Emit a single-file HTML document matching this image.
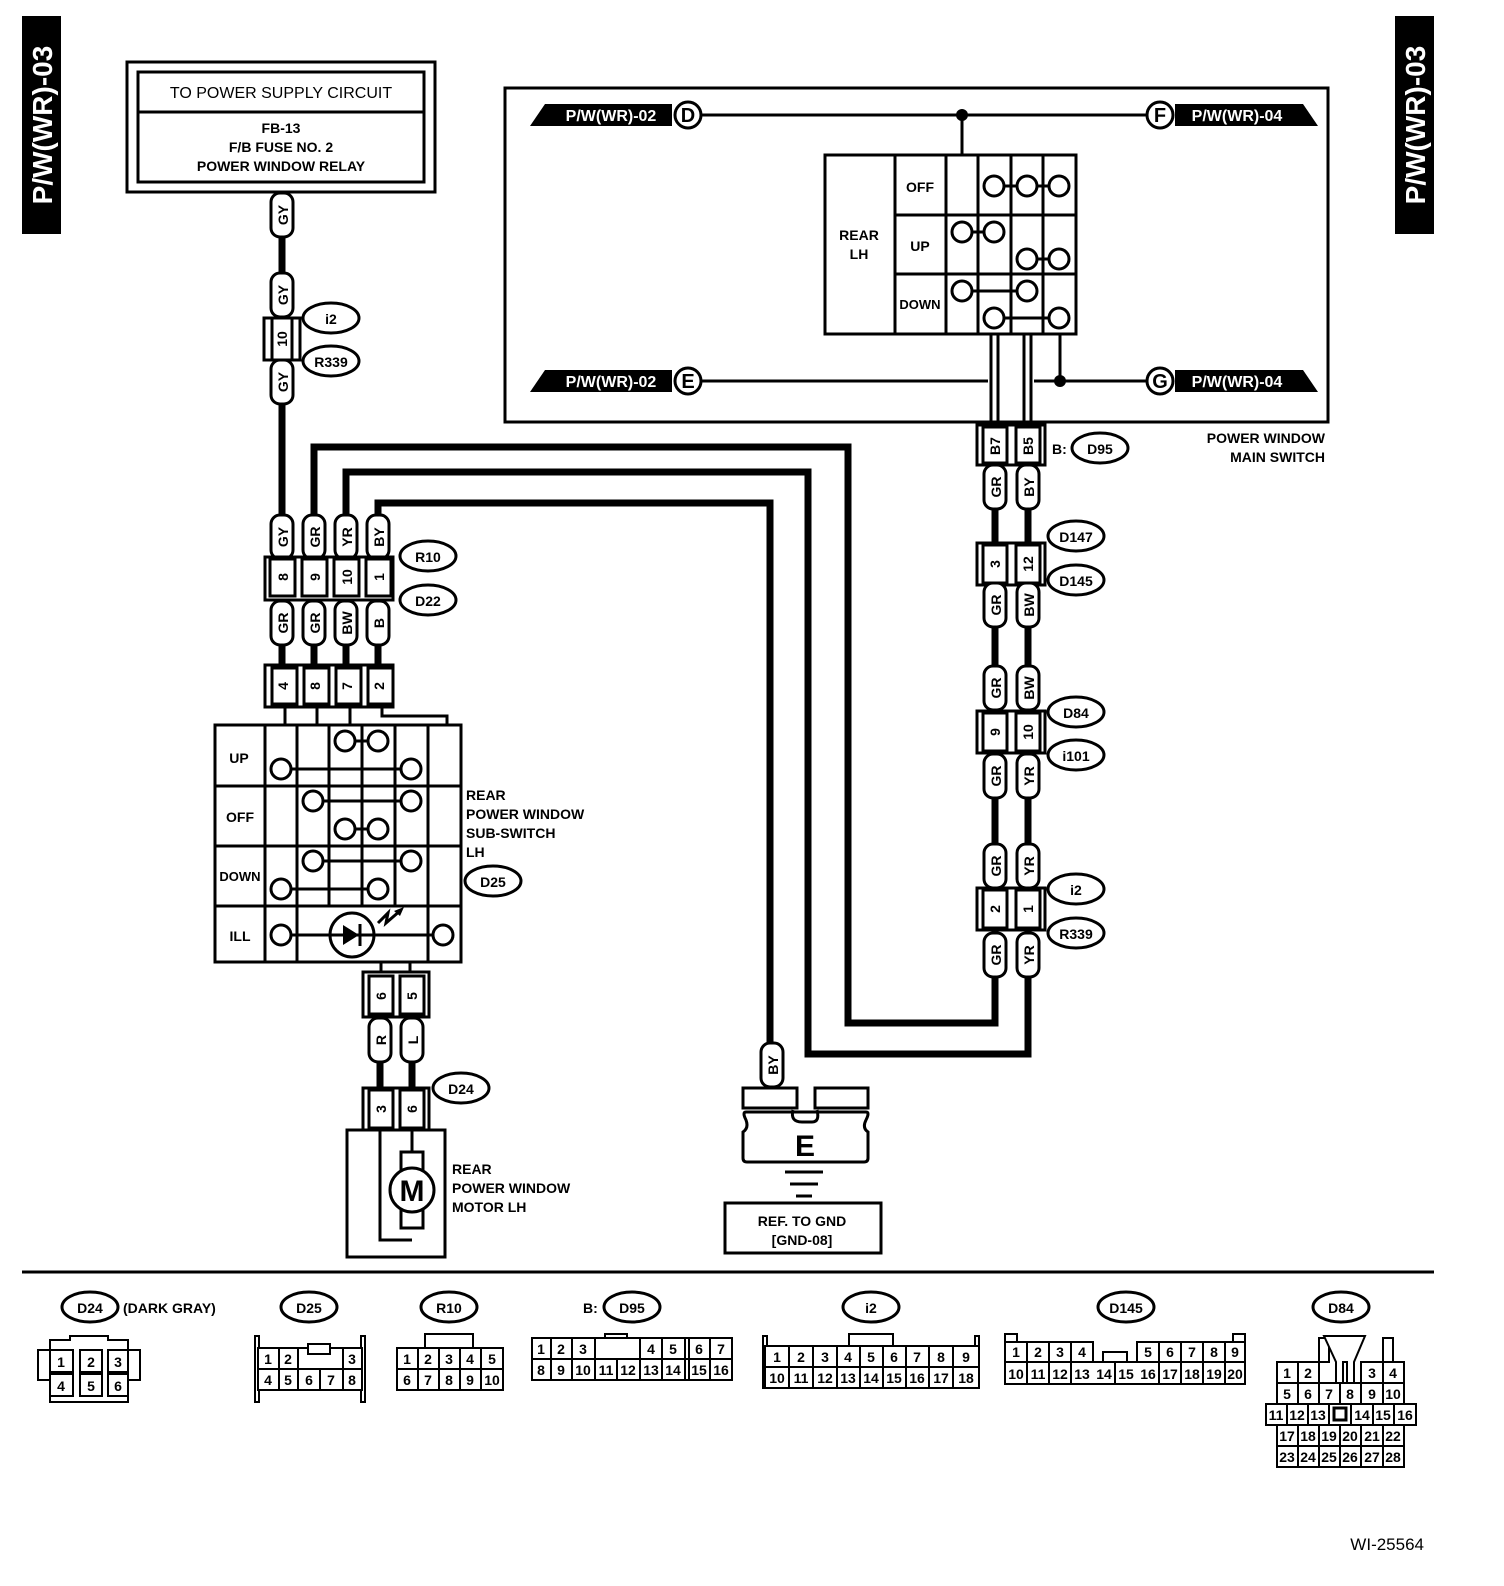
<!DOCTYPE html>
<html><head><meta charset="utf-8"><style>
html,body{margin:0;padding:0;background:#fff;width:1504px;height:1586px;overflow:hidden}
svg{display:block}
text{font-family:"Liberation Sans",Arial,sans-serif;font-weight:bold;fill:#000}
.t{font-size:16px}
.s{font-size:14px}
.c{font-size:13px;font-weight:normal}
</style></head><body>
<svg width="1504" height="1586" viewBox="0 0 1504 1586" xmlns="http://www.w3.org/2000/svg">
<defs>
<g id="pill"><rect x="-11" y="-22" width="22" height="44" rx="9" fill="#fff" stroke="#000" stroke-width="3"/></g>
</defs>
<!-- side tabs -->
<rect x="22" y="16" width="39" height="218" fill="#000"/>
<text transform="translate(52,125) rotate(-90)" text-anchor="middle" style="font-size:28px;fill:#fff">P/W(WR)-03</text>
<rect x="1395" y="16" width="39" height="218" fill="#000"/>
<text transform="translate(1425,125) rotate(-90)" text-anchor="middle" style="font-size:28px;fill:#fff">P/W(WR)-03</text>

<!-- power supply box -->
<rect x="127" y="62" width="308" height="130" fill="none" stroke="#000" stroke-width="3"/>
<rect x="138" y="72" width="286" height="110" fill="none" stroke="#000" stroke-width="3"/>
<line x1="138" y1="112" x2="424" y2="112" stroke="#000" stroke-width="3"/>
<text x="281" y="98" text-anchor="middle" class="t" style="font-weight:normal">TO POWER SUPPLY CIRCUIT</text>
<text x="281" y="133" text-anchor="middle" class="s">FB-13</text>
<text x="281" y="152" text-anchor="middle" class="s">F/B FUSE NO. 2</text>
<text x="281" y="171" text-anchor="middle" class="s">POWER WINDOW RELAY</text>

<!-- thick wires -->
<g fill="none" stroke="#000" stroke-width="7">
<line x1="282" y1="192" x2="282" y2="560"/>
<polyline points="314,560 314,447 848,447 848,1023 995,1023 995,960"/>
<polyline points="346,560 346,472 808,472 808,1054 1028,1054 1028,960"/>
<polyline points="378,560 378,503 770,503 770,1090"/>
<line x1="282" y1="600" x2="282" y2="668"/>
<line x1="314" y1="600" x2="314" y2="668"/>
<line x1="346" y1="600" x2="346" y2="668"/>
<line x1="378" y1="600" x2="378" y2="668"/>
<line x1="995" y1="460" x2="995" y2="960"/>
<line x1="1028" y1="460" x2="1028" y2="960"/>
<line x1="380" y1="1015" x2="380" y2="1090"/>
<line x1="412" y1="1015" x2="412" y2="1090"/>
</g>

<!-- i2/R339 connector left -->
<rect x="264" y="318" width="36" height="42" fill="#fff" stroke="#000" stroke-width="3"/>
<rect x="272" y="318" width="20" height="42" fill="#fff" stroke="#000" stroke-width="3"/>
<text transform="translate(287,339) rotate(-90)" text-anchor="middle" class="s">10</text>
<ellipse cx="331" cy="318" rx="28" ry="15" fill="#fff" stroke="#000" stroke-width="3"/><text x="331" y="324" text-anchor="middle" class="s">i2</text>
<ellipse cx="331" cy="361" rx="28" ry="15" fill="#fff" stroke="#000" stroke-width="3"/><text x="331" y="367" text-anchor="middle" class="s">R339</text>

<!-- pills left column -->
<g>
<use href="#pill" x="282" y="215"/><text transform="translate(288,215) rotate(-90)" text-anchor="middle" class="s">GY</text>
<use href="#pill" x="282" y="295"/><text transform="translate(288,295) rotate(-90)" text-anchor="middle" class="s">GY</text>
<use href="#pill" x="282" y="382"/><text transform="translate(288,382) rotate(-90)" text-anchor="middle" class="s">GY</text>
<use href="#pill" x="282" y="537"/><text transform="translate(288,537) rotate(-90)" text-anchor="middle" class="s">GY</text>
<use href="#pill" x="314" y="537"/><text transform="translate(320,537) rotate(-90)" text-anchor="middle" class="s">GR</text>
<use href="#pill" x="346" y="537"/><text transform="translate(352,537) rotate(-90)" text-anchor="middle" class="s">YR</text>
<use href="#pill" x="378" y="537"/><text transform="translate(384,537) rotate(-90)" text-anchor="middle" class="s">BY</text>
<use href="#pill" x="282" y="623"/><text transform="translate(288,623) rotate(-90)" text-anchor="middle" class="s">GR</text>
<use href="#pill" x="314" y="623"/><text transform="translate(320,623) rotate(-90)" text-anchor="middle" class="s">GR</text>
<use href="#pill" x="346" y="623"/><text transform="translate(352,623) rotate(-90)" text-anchor="middle" class="s">BW</text>
<use href="#pill" x="378" y="623"/><text transform="translate(384,623) rotate(-90)" text-anchor="middle" class="s">B</text>
</g>
<!-- R10/D22 connector -->
<rect x="265" y="557" width="128" height="43" fill="#fff" stroke="#000" stroke-width="3"/>
<g fill="#fff" stroke="#000" stroke-width="3">
<rect x="270" y="559" width="25" height="37"/><rect x="302" y="559" width="25" height="37"/><rect x="334" y="559" width="25" height="37"/><rect x="366" y="559" width="25" height="37"/>
</g>
<text transform="translate(288,577) rotate(-90)" text-anchor="middle" class="s">8</text>
<text transform="translate(320,577) rotate(-90)" text-anchor="middle" class="s">9</text>
<text transform="translate(352,577) rotate(-90)" text-anchor="middle" class="s">10</text>
<text transform="translate(384,577) rotate(-90)" text-anchor="middle" class="s">1</text>
<ellipse cx="428" cy="556" rx="28" ry="15" fill="#fff" stroke="#000" stroke-width="3"/><text x="428" y="562" text-anchor="middle" class="s">R10</text>
<ellipse cx="428" cy="600" rx="28" ry="15" fill="#fff" stroke="#000" stroke-width="3"/><text x="428" y="606" text-anchor="middle" class="s">D22</text>

<!-- D25 connector top -->
<rect x="265" y="665" width="128" height="42" fill="#fff" stroke="#000" stroke-width="3"/>
<g fill="#fff" stroke="#000" stroke-width="3">
<rect x="272" y="668" width="25" height="36"/><rect x="304" y="668" width="25" height="36"/><rect x="336" y="668" width="25" height="36"/><rect x="368" y="668" width="25" height="36"/>
</g>
<text transform="translate(288,686) rotate(-90)" text-anchor="middle" class="s">4</text>
<text transform="translate(320,686) rotate(-90)" text-anchor="middle" class="s">8</text>
<text transform="translate(352,686) rotate(-90)" text-anchor="middle" class="s">7</text>
<text transform="translate(384,686) rotate(-90)" text-anchor="middle" class="s">2</text>
<g stroke="#000" stroke-width="3" fill="none">
<line x1="285" y1="707" x2="285" y2="725"/><line x1="317" y1="707" x2="317" y2="725"/><line x1="350" y1="707" x2="350" y2="725"/>
<polyline points="382,707 382,716 447,716 447,725"/>
</g>

<!-- sub switch table -->
<g stroke="#000" stroke-width="3" fill="none">
<rect x="215" y="725" width="246" height="237"/>
<line x1="215" y1="786" x2="461" y2="786"/><line x1="215" y1="846" x2="461" y2="846"/><line x1="215" y1="906" x2="461" y2="906"/>
<line x1="265" y1="725" x2="265" y2="962"/>
<line x1="297" y1="725" x2="297" y2="962"/>
<line x1="329" y1="725" x2="329" y2="906"/><line x1="362" y1="725" x2="362" y2="906"/><line x1="395" y1="725" x2="395" y2="906"/>
<line x1="428" y1="725" x2="428" y2="962"/>
<line x1="345" y1="741" x2="378" y2="741"/><line x1="281" y1="769" x2="411" y2="769"/>
<line x1="313" y1="801" x2="411" y2="801"/><line x1="345" y1="829" x2="378" y2="829"/>
<line x1="313" y1="861" x2="411" y2="861"/><line x1="281" y1="889" x2="378" y2="889"/>
<line x1="281" y1="935" x2="443" y2="935"/>
</g>
<g stroke="#000" stroke-width="3" fill="#fff">
<circle cx="345" cy="741" r="10"/><circle cx="378" cy="741" r="10"/><circle cx="281" cy="769" r="10"/><circle cx="411" cy="769" r="10"/>
<circle cx="313" cy="801" r="10"/><circle cx="411" cy="801" r="10"/><circle cx="345" cy="829" r="10"/><circle cx="378" cy="829" r="10"/>
<circle cx="313" cy="861" r="10"/><circle cx="411" cy="861" r="10"/><circle cx="281" cy="889" r="10"/><circle cx="378" cy="889" r="10"/>
<circle cx="281" cy="935" r="10"/><circle cx="443" cy="935" r="10"/>
<circle cx="352" cy="935" r="22"/>
</g>
<line x1="330" y1="935" x2="374" y2="935" stroke="#000" stroke-width="3"/>
<polygon points="343,925 343,945 359,935" fill="#000"/>
<line x1="360" y1="924" x2="360" y2="946" stroke="#000" stroke-width="3"/>
<polyline points="378,923 388,913 386,923 401,910" fill="none" stroke="#000" stroke-width="3"/>
<polygon points="404,907 394,911 400,916" fill="#000"/>
<text x="239" y="763" text-anchor="middle" class="s">UP</text>
<text x="240" y="822" text-anchor="middle" class="s">OFF</text>
<text x="240" y="881" text-anchor="middle" style="font-size:13px">DOWN</text>
<text x="240" y="941" text-anchor="middle" class="s">ILL</text>
<text x="466" y="800" class="s">REAR</text>
<text x="466" y="819" class="s">POWER WINDOW</text>
<text x="466" y="838" class="s">SUB-SWITCH</text>
<text x="466" y="857" class="s">LH</text>
<ellipse cx="493" cy="881" rx="28" ry="15" fill="#fff" stroke="#000" stroke-width="3"/><text x="493" y="887" text-anchor="middle" class="s">D25</text>

<!-- D25 bottom connector 6/5 -->
<g stroke="#000" stroke-width="3" fill="none">
<line x1="381" y1="962" x2="381" y2="972"/><line x1="410" y1="962" x2="410" y2="972"/>
<rect x="363" y="972" width="66" height="45" fill="#fff"/>
<rect x="369" y="976" width="24" height="38" fill="#fff"/><rect x="400" y="976" width="24" height="38" fill="#fff"/>
</g>
<text transform="translate(386,996) rotate(-90)" text-anchor="middle" class="s">6</text>
<text transform="translate(417,996) rotate(-90)" text-anchor="middle" class="s">5</text>
<use href="#pill" x="380" y="1040"/><text transform="translate(386,1040) rotate(-90)" text-anchor="middle" class="s">R</text>
<use href="#pill" x="412" y="1040"/><text transform="translate(418,1040) rotate(-90)" text-anchor="middle" class="s">L</text>
<g stroke="#000" stroke-width="3" fill="none">
<rect x="363" y="1088" width="66" height="42" fill="#fff"/>
<rect x="369" y="1090" width="24" height="38" fill="#fff"/><rect x="400" y="1090" width="24" height="38" fill="#fff"/>
</g>
<text transform="translate(386,1109) rotate(-90)" text-anchor="middle" class="s">3</text>
<text transform="translate(417,1109) rotate(-90)" text-anchor="middle" class="s">6</text>
<ellipse cx="461" cy="1088" rx="28" ry="15" fill="#fff" stroke="#000" stroke-width="3"/><text x="461" y="1094" text-anchor="middle" class="s">D24</text>
<!-- motor -->
<g stroke="#000" stroke-width="3" fill="none">
<rect x="347" y="1130" width="98" height="127"/>
<polyline points="380,1130 380,1240 412,1240"/>
<line x1="412" y1="1130" x2="412" y2="1152"/>
<rect x="401" y="1152" width="22" height="76" fill="#fff"/>
<circle cx="412" cy="1190" r="22" fill="#fff"/>
</g>
<text x="412" y="1201" text-anchor="middle" style="font-size:30px">M</text>
<text x="452" y="1174" class="s">REAR</text>
<text x="452" y="1193" class="s">POWER WINDOW</text>
<text x="452" y="1212" class="s">MOTOR LH</text>

<!-- ground -->
<use href="#pill" x="772" y="1065"/><text transform="translate(778,1065) rotate(-90)" text-anchor="middle" class="s">BY</text>
<g stroke="#000" stroke-width="3" fill="#fff">
<rect x="743" y="1088" width="54" height="20"/><rect x="815" y="1088" width="53" height="20"/>
<path d="M746,1112 H866 Q870,1112 866,1120 Q862,1128 868,1132 V1158 Q868,1162 864,1162 H747 Q743,1162 743,1158 V1132 Q749,1128 746,1120 Q742,1112 746,1112 Z"/>
<path d="M793,1110 Q790,1122 802,1122 H812 Q820,1122 817,1110" fill="none"/>
</g>
<text x="805" y="1156" text-anchor="middle" style="font-size:30px">E</text>
<g stroke="#000" stroke-width="3">
<line x1="785" y1="1172" x2="823" y2="1172"/><line x1="790" y1="1184" x2="818" y2="1184"/><line x1="796" y1="1196" x2="812" y2="1196"/>
</g>
<rect x="725" y="1203" width="156" height="50" fill="#fff" stroke="#000" stroke-width="3"/>
<text x="802" y="1226" text-anchor="middle" class="s">REF. TO GND</text>
<text x="802" y="1245" text-anchor="middle" class="s">[GND-08]</text>

<!-- main switch box -->
<rect x="505" y="88" width="823" height="334" fill="none" stroke="#000" stroke-width="3"/>
<g stroke="#000" stroke-width="3" fill="none">
<line x1="700" y1="115" x2="1146" y2="115"/>
<line x1="700" y1="381" x2="1146" y2="381"/>
<line x1="962" y1="115" x2="962" y2="155"/>
<line x1="1060" y1="334" x2="1060" y2="381"/>
<line x1="991" y1="334" x2="991" y2="425"/><line x1="998" y1="334" x2="998" y2="425"/>
<line x1="1024" y1="334" x2="1024" y2="425"/><line x1="1031" y1="334" x2="1031" y2="425"/>
</g>
<rect x="988" y="374" width="46" height="14" fill="#fff"/>
<g stroke="#000" stroke-width="3"><line x1="991" y1="370" x2="991" y2="392"/><line x1="998" y1="370" x2="998" y2="392"/><line x1="1024" y1="370" x2="1024" y2="392"/><line x1="1031" y1="370" x2="1031" y2="392"/></g>
<circle cx="962" cy="115" r="6" fill="#000"/><circle cx="1060" cy="381" r="6" fill="#000"/>
<!-- flags -->
<polygon points="545,104 672,104 672,126 530,126" fill="#000"/>
<text x="611" y="121" text-anchor="middle" style="font-size:16px;fill:#fff">P/W(WR)-02</text>
<circle cx="688" cy="115" r="13" fill="#fff" stroke="#000" stroke-width="3"/><text x="688" y="122" text-anchor="middle" style="font-size:20px">D</text>
<polygon points="545,370 672,370 672,392 530,392" fill="#000"/>
<text x="611" y="387" text-anchor="middle" style="font-size:16px;fill:#fff">P/W(WR)-02</text>
<circle cx="688" cy="381" r="13" fill="#fff" stroke="#000" stroke-width="3"/><text x="688" y="388" text-anchor="middle" style="font-size:20px">E</text>
<polygon points="1175,104 1303,104 1318,126 1175,126" fill="#000"/>
<text x="1237" y="121" text-anchor="middle" style="font-size:16px;fill:#fff">P/W(WR)-04</text>
<circle cx="1160" cy="115" r="13" fill="#fff" stroke="#000" stroke-width="3"/><text x="1160" y="122" text-anchor="middle" style="font-size:20px">F</text>
<polygon points="1175,370 1303,370 1318,392 1175,392" fill="#000"/>
<text x="1237" y="387" text-anchor="middle" style="font-size:16px;fill:#fff">P/W(WR)-04</text>
<circle cx="1160" cy="381" r="13" fill="#fff" stroke="#000" stroke-width="3"/><text x="1160" y="388" text-anchor="middle" style="font-size:20px">G</text>
<!-- main switch table -->
<g stroke="#000" stroke-width="3" fill="none">
<rect x="825" y="155" width="251" height="179" fill="#fff"/>
<line x1="895" y1="155" x2="895" y2="334"/><line x1="946" y1="155" x2="946" y2="334"/>
<line x1="978" y1="155" x2="978" y2="334"/><line x1="1011" y1="155" x2="1011" y2="334"/><line x1="1043" y1="155" x2="1043" y2="334"/>
<line x1="895" y1="215" x2="1076" y2="215"/><line x1="895" y1="274" x2="1076" y2="274"/>
<line x1="994" y1="186" x2="1059" y2="186"/>
<line x1="962" y1="232" x2="994" y2="232"/><line x1="1027" y1="259" x2="1059" y2="259"/>
<line x1="962" y1="291" x2="1027" y2="291"/><line x1="994" y1="318" x2="1059" y2="318"/>
</g>
<g stroke="#000" stroke-width="3" fill="#fff">
<circle cx="994" cy="186" r="10"/><circle cx="1027" cy="186" r="10"/><circle cx="1059" cy="186" r="10"/>
<circle cx="962" cy="232" r="10"/><circle cx="994" cy="232" r="10"/><circle cx="1027" cy="259" r="10"/><circle cx="1059" cy="259" r="10"/>
<circle cx="962" cy="291" r="10"/><circle cx="1027" cy="291" r="10"/><circle cx="994" cy="318" r="10"/><circle cx="1059" cy="318" r="10"/>
</g>
<text x="859" y="240" text-anchor="middle" class="s">REAR</text>
<text x="859" y="259" text-anchor="middle" class="s">LH</text>
<text x="920" y="192" text-anchor="middle" class="s">OFF</text>
<text x="920" y="251" text-anchor="middle" class="s">UP</text>
<text x="920" y="309" text-anchor="middle" style="font-size:13px">DOWN</text>
<text x="1325" y="443" text-anchor="end" class="s">POWER WINDOW</text>
<text x="1325" y="462" text-anchor="end" class="s">MAIN SWITCH</text>

<!-- right column connectors -->
<g stroke="#000" stroke-width="3" fill="#fff">
<rect x="977" y="425" width="68" height="40"/><rect x="983" y="427" width="24" height="36"/><rect x="1016" y="427" width="24" height="36"/>
<rect x="977" y="543" width="68" height="42"/><rect x="983" y="545" width="24" height="38"/><rect x="1016" y="545" width="24" height="38"/>
<rect x="977" y="711" width="68" height="42"/><rect x="983" y="713" width="24" height="38"/><rect x="1016" y="713" width="24" height="38"/>
<rect x="977" y="888" width="68" height="42"/><rect x="983" y="890" width="24" height="38"/><rect x="1016" y="890" width="24" height="38"/>
</g>
<text transform="translate(1000,446) rotate(-90)" text-anchor="middle" class="s">B7</text>
<text transform="translate(1033,446) rotate(-90)" text-anchor="middle" class="s">B5</text>
<text transform="translate(1000,564) rotate(-90)" text-anchor="middle" class="s">3</text>
<text transform="translate(1033,564) rotate(-90)" text-anchor="middle" class="s">12</text>
<text transform="translate(1000,732) rotate(-90)" text-anchor="middle" class="s">9</text>
<text transform="translate(1033,732) rotate(-90)" text-anchor="middle" class="s">10</text>
<text transform="translate(1000,909) rotate(-90)" text-anchor="middle" class="s">2</text>
<text transform="translate(1033,909) rotate(-90)" text-anchor="middle" class="s">1</text>
<use href="#pill" x="995" y="487"/><text transform="translate(1001,487) rotate(-90)" text-anchor="middle" class="s">GR</text>
<use href="#pill" x="1028" y="487"/><text transform="translate(1034,487) rotate(-90)" text-anchor="middle" class="s">BY</text>
<use href="#pill" x="995" y="605"/><text transform="translate(1001,605) rotate(-90)" text-anchor="middle" class="s">GR</text>
<use href="#pill" x="1028" y="605"/><text transform="translate(1034,605) rotate(-90)" text-anchor="middle" class="s">BW</text>
<use href="#pill" x="995" y="688"/><text transform="translate(1001,688) rotate(-90)" text-anchor="middle" class="s">GR</text>
<use href="#pill" x="1028" y="688"/><text transform="translate(1034,688) rotate(-90)" text-anchor="middle" class="s">BW</text>
<use href="#pill" x="995" y="776"/><text transform="translate(1001,776) rotate(-90)" text-anchor="middle" class="s">GR</text>
<use href="#pill" x="1028" y="776"/><text transform="translate(1034,776) rotate(-90)" text-anchor="middle" class="s">YR</text>
<use href="#pill" x="995" y="866"/><text transform="translate(1001,866) rotate(-90)" text-anchor="middle" class="s">GR</text>
<use href="#pill" x="1028" y="866"/><text transform="translate(1034,866) rotate(-90)" text-anchor="middle" class="s">YR</text>
<use href="#pill" x="995" y="955"/><text transform="translate(1001,955) rotate(-90)" text-anchor="middle" class="s">GR</text>
<use href="#pill" x="1028" y="955"/><text transform="translate(1034,955) rotate(-90)" text-anchor="middle" class="s">YR</text>
<text x="1052" y="454" class="s">B:</text>
<g fill="#fff" stroke="#000" stroke-width="3">
<ellipse cx="1100" cy="448" rx="28" ry="15"/><ellipse cx="1076" cy="536" rx="28" ry="15"/><ellipse cx="1076" cy="580" rx="28" ry="15"/>
<ellipse cx="1076" cy="712" rx="28" ry="15"/><ellipse cx="1076" cy="755" rx="28" ry="15"/><ellipse cx="1076" cy="889" rx="28" ry="15"/><ellipse cx="1076" cy="933" rx="28" ry="15"/>
</g>
<text x="1100" y="454" text-anchor="middle" class="s">D95</text>
<text x="1076" y="542" text-anchor="middle" class="s">D147</text>
<text x="1076" y="586" text-anchor="middle" class="s">D145</text>
<text x="1076" y="718" text-anchor="middle" class="s">D84</text>
<text x="1076" y="761" text-anchor="middle" class="s">i101</text>
<text x="1076" y="895" text-anchor="middle" class="s">i2</text>
<text x="1076" y="939" text-anchor="middle" class="s">R339</text>

<!-- separator -->
<line x1="22" y1="1272" x2="1434" y2="1272" stroke="#000" stroke-width="3"/>

<!-- bottom connector views -->
<g fill="#fff" stroke="#000" stroke-width="3">
<ellipse cx="90" cy="1307" rx="28" ry="15"/><ellipse cx="309" cy="1307" rx="28" ry="15"/><ellipse cx="449" cy="1307" rx="28" ry="15"/>
<ellipse cx="632" cy="1307" rx="28" ry="15"/><ellipse cx="871" cy="1307" rx="28" ry="15"/><ellipse cx="1126" cy="1307" rx="28" ry="15"/><ellipse cx="1341" cy="1307" rx="28" ry="15"/>
</g>
<text x="90" y="1313" text-anchor="middle" class="s">D24</text>
<text x="123" y="1313" class="s">(DARK GRAY)</text>
<text x="309" y="1313" text-anchor="middle" class="s">D25</text>
<text x="449" y="1313" text-anchor="middle" class="s">R10</text>
<text x="583" y="1313" class="s">B:</text>
<text x="632" y="1313" text-anchor="middle" class="s">D95</text>
<text x="871" y="1313" text-anchor="middle" class="s">i2</text>
<text x="1126" y="1313" text-anchor="middle" class="s">D145</text>
<text x="1341" y="1313" text-anchor="middle" class="s">D84</text>

<g fill="#fff" stroke="#000" stroke-width="2">
<!-- D24 -->
<path d="M50,1350 V1340 H70 V1336 H108 V1340 H128 V1350 H140 V1380 H128 V1402 H50 V1380 H38 V1350 Z"/>
<rect x="50" y="1350" width="23" height="22"/><rect x="80" y="1350" width="22" height="22"/><rect x="108" y="1350" width="20" height="22"/>
<rect x="50" y="1374" width="23" height="22"/><rect x="80" y="1374" width="22" height="22"/><rect x="108" y="1374" width="20" height="22"/>
<!-- D25 -->
<rect x="255" y="1336" width="4" height="66"/><rect x="361" y="1336" width="4" height="66"/>
<rect x="258" y="1348" width="104" height="42"/>
<rect x="308" y="1344" width="22" height="10"/>
<line x1="258" y1="1369" x2="362" y2="1369"/>
<line x1="279" y1="1348" x2="279" y2="1390"/><line x1="298" y1="1348" x2="298" y2="1390"/><line x1="343" y1="1348" x2="343" y2="1390"/>
<line x1="320" y1="1369" x2="320" y2="1390"/>
<!-- R10 -->
<rect x="425" y="1334" width="48" height="14"/>
<rect x="397" y="1348" width="106" height="42"/><line x1="397" y1="1369" x2="503" y2="1369"/>
<line x1="418" y1="1348" x2="418" y2="1390"/><line x1="439" y1="1348" x2="439" y2="1390"/><line x1="460" y1="1348" x2="460" y2="1390"/><line x1="481" y1="1348" x2="481" y2="1390"/>
<!-- D95 -->
<rect x="605" y="1334" width="22" height="12"/>
<rect x="532" y="1338" width="200" height="42"/><line x1="532" y1="1359" x2="732" y2="1359"/>
<line x1="551" y1="1338" x2="551" y2="1380"/><line x1="572" y1="1338" x2="572" y2="1380"/><line x1="595" y1="1338" x2="595" y2="1380"/>
<line x1="617" y1="1359" x2="617" y2="1380"/><line x1="640" y1="1338" x2="640" y2="1380"/><line x1="662" y1="1338" x2="662" y2="1380"/>
<line x1="685" y1="1338" x2="685" y2="1380"/><line x1="689" y1="1338" x2="689" y2="1380"/><line x1="710" y1="1338" x2="710" y2="1380"/>
<!-- i2 -->
<rect x="763" y="1336" width="4" height="52"/><rect x="975" y="1336" width="4" height="52"/>
<rect x="849" y="1334" width="44" height="12"/>
<rect x="765" y="1346" width="214" height="42"/><line x1="765" y1="1367" x2="979" y2="1367"/>
<line x1="789" y1="1346" x2="789" y2="1388"/><line x1="813" y1="1346" x2="813" y2="1388"/><line x1="837" y1="1346" x2="837" y2="1388"/><line x1="860" y1="1346" x2="860" y2="1388"/>
<line x1="883" y1="1346" x2="883" y2="1388"/><line x1="906" y1="1346" x2="906" y2="1388"/><line x1="929" y1="1346" x2="929" y2="1388"/><line x1="953" y1="1346" x2="953" y2="1388"/>
<!-- D145 -->
<rect x="1005" y="1334" width="12" height="8"/><rect x="1233" y="1334" width="12" height="8"/>
<polyline points="1005,1342 1005,1384 1245,1384 1245,1342 1137,1342 1137,1362 1093,1362 1093,1342 1005,1342"/>
<rect x="1103" y="1352" width="24" height="10"/>
<line x1="1005" y1="1362" x2="1245" y2="1362"/>
<line x1="1027" y1="1342" x2="1027" y2="1384"/><line x1="1049" y1="1342" x2="1049" y2="1384"/><line x1="1071" y1="1342" x2="1071" y2="1384"/>
<line x1="1115" y1="1362" x2="1115" y2="1384"/><line x1="1159" y1="1342" x2="1159" y2="1384"/>
<line x1="1181" y1="1342" x2="1181" y2="1384"/><line x1="1203" y1="1342" x2="1203" y2="1384"/><line x1="1225" y1="1342" x2="1225" y2="1384"/>
<!-- D84 -->
<rect x="1319" y="1338" width="10" height="24"/>
<rect x="1383" y="1338" width="10" height="24"/>
<rect x="1277" y="1362" width="42" height="21"/><line x1="1298" y1="1362" x2="1298" y2="1383"/>
<rect x="1361" y="1362" width="43" height="21"/><line x1="1383" y1="1362" x2="1383" y2="1383"/>
<rect x="1277" y="1383" width="127" height="21"/>
<line x1="1298" y1="1383" x2="1298" y2="1404"/><line x1="1319" y1="1383" x2="1319" y2="1404"/><line x1="1340" y1="1383" x2="1340" y2="1404"/><line x1="1361" y1="1383" x2="1361" y2="1404"/><line x1="1383" y1="1383" x2="1383" y2="1404"/>
<rect x="1266" y="1404" width="150" height="21"/>
<line x1="1287" y1="1404" x2="1287" y2="1425"/><line x1="1308" y1="1404" x2="1308" y2="1425"/><line x1="1329" y1="1404" x2="1329" y2="1425"/><line x1="1351" y1="1404" x2="1351" y2="1425"/><line x1="1373" y1="1404" x2="1373" y2="1425"/><line x1="1394" y1="1404" x2="1394" y2="1425"/>
<rect x="1334" y="1408" width="12" height="12" stroke-width="3"/>
<rect x="1277" y="1425" width="127" height="21"/>
<line x1="1298" y1="1425" x2="1298" y2="1446"/><line x1="1319" y1="1425" x2="1319" y2="1446"/><line x1="1340" y1="1425" x2="1340" y2="1446"/><line x1="1361" y1="1425" x2="1361" y2="1446"/><line x1="1383" y1="1425" x2="1383" y2="1446"/>
<rect x="1277" y="1446" width="127" height="21"/>
<line x1="1298" y1="1446" x2="1298" y2="1467"/><line x1="1319" y1="1446" x2="1319" y2="1467"/><line x1="1340" y1="1446" x2="1340" y2="1467"/><line x1="1361" y1="1446" x2="1361" y2="1467"/><line x1="1383" y1="1446" x2="1383" y2="1467"/>
<polygon points="1335,1336 1365,1336 1354,1362 1354,1383 1347,1383 1347,1362 1343,1362 1343,1383 1336,1383 1336,1362 1324,1336" fill="#fff"/>
</g>
<g class="c" text-anchor="middle" style="font-size:14px;font-weight:normal">
<text x="61" y="1367">1</text><text x="91" y="1367">2</text><text x="118" y="1367">3</text>
<text x="61" y="1391">4</text><text x="91" y="1391">5</text><text x="118" y="1391">6</text>
<text x="268" y="1364">1</text><text x="288" y="1364">2</text><text x="352" y="1364">3</text>
<text x="268" y="1385">4</text><text x="288" y="1385">5</text><text x="309" y="1385">6</text><text x="331" y="1385">7</text><text x="352" y="1385">8</text>
<text x="407" y="1364">1</text><text x="428" y="1364">2</text><text x="449" y="1364">3</text><text x="470" y="1364">4</text><text x="492" y="1364">5</text>
<text x="407" y="1385">6</text><text x="428" y="1385">7</text><text x="449" y="1385">8</text><text x="470" y="1385">9</text><text x="492" y="1385">10</text>
<text x="541" y="1354">1</text><text x="561" y="1354">2</text><text x="583" y="1354">3</text><text x="651" y="1354">4</text><text x="673" y="1354">5</text><text x="699" y="1354">6</text><text x="721" y="1354">7</text>
<text x="541" y="1375">8</text><text x="561" y="1375">9</text><text x="583" y="1375">10</text><text x="606" y="1375">11</text><text x="628" y="1375">12</text><text x="651" y="1375">13</text><text x="673" y="1375">14</text><text x="699" y="1375">15</text><text x="721" y="1375">16</text>
<text x="777" y="1362">1</text><text x="801" y="1362">2</text><text x="825" y="1362">3</text><text x="848" y="1362">4</text><text x="871" y="1362">5</text><text x="894" y="1362">6</text><text x="917" y="1362">7</text><text x="941" y="1362">8</text><text x="966" y="1362">9</text>
<text x="777" y="1383">10</text><text x="801" y="1383">11</text><text x="825" y="1383">12</text><text x="848" y="1383">13</text><text x="871" y="1383">14</text><text x="894" y="1383">15</text><text x="917" y="1383">16</text><text x="941" y="1383">17</text><text x="966" y="1383">18</text>
<text x="1016" y="1357">1</text><text x="1038" y="1357">2</text><text x="1060" y="1357">3</text><text x="1082" y="1357">4</text><text x="1148" y="1357">5</text><text x="1170" y="1357">6</text><text x="1192" y="1357">7</text><text x="1214" y="1357">8</text><text x="1235" y="1357">9</text>
<text x="1016" y="1379">10</text><text x="1038" y="1379">11</text><text x="1060" y="1379">12</text><text x="1082" y="1379">13</text><text x="1104" y="1379">14</text><text x="1126" y="1379">15</text><text x="1148" y="1379">16</text><text x="1170" y="1379">17</text><text x="1192" y="1379">18</text><text x="1214" y="1379">19</text><text x="1235" y="1379">20</text>
<text x="1287" y="1378">1</text><text x="1308" y="1378">2</text><text x="1372" y="1378">3</text><text x="1393" y="1378">4</text>
<text x="1287" y="1399">5</text><text x="1308" y="1399">6</text><text x="1329" y="1399">7</text><text x="1350" y="1399">8</text><text x="1372" y="1399">9</text><text x="1393" y="1399">10</text>
<text x="1276" y="1420">11</text><text x="1297" y="1420">12</text><text x="1318" y="1420">13</text><text x="1362" y="1420">14</text><text x="1383" y="1420">15</text><text x="1405" y="1420">16</text>
<text x="1287" y="1441">17</text><text x="1308" y="1441">18</text><text x="1329" y="1441">19</text><text x="1350" y="1441">20</text><text x="1372" y="1441">21</text><text x="1393" y="1441">22</text>
<text x="1287" y="1462">23</text><text x="1308" y="1462">24</text><text x="1329" y="1462">25</text><text x="1350" y="1462">26</text><text x="1372" y="1462">27</text><text x="1393" y="1462">28</text>
</g>
<text x="1424" y="1550" text-anchor="end" style="font-size:17px;font-weight:normal">WI-25564</text>
</svg>
</body></html>
